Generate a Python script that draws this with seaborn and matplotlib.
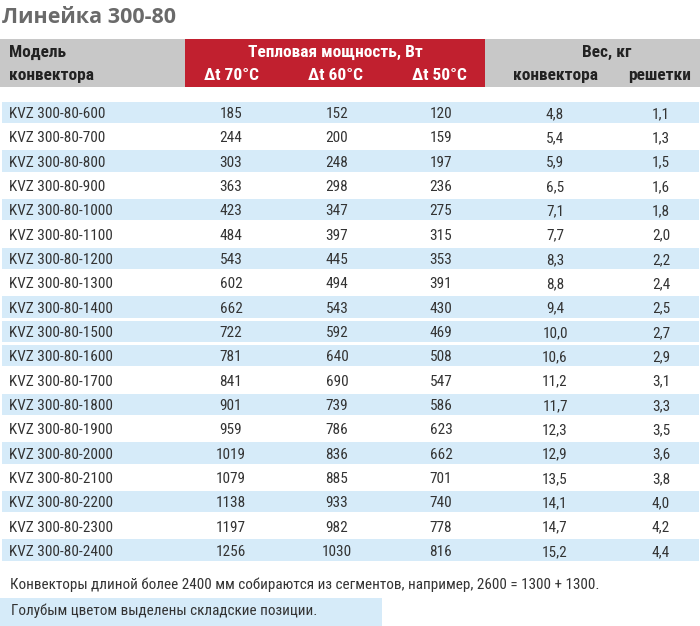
import matplotlib
matplotlib.use("Agg")
import matplotlib.pyplot as plt
from matplotlib import font_manager
from matplotlib.colors import ListedColormap
from matplotlib.patches import Rectangle
import numpy as np
import pandas as pd
import seaborn as sns

# table data
MODELS = [f"KVZ 300-80-{n}" for n in range(600, 2500, 100)]
POWER_70 = [185, 244, 303, 363, 423, 484, 543, 602, 662, 722, 781, 841, 901, 959, 1019, 1079, 1138, 1197, 1256]
POWER_60 = [152, 200, 248, 298, 347, 397, 445, 494, 543, 592, 640, 690, 739, 786, 836, 885, 933, 982, 1030]
POWER_50 = [120, 159, 197, 236, 275, 315, 353, 391, 430, 469, 508, 547, 586, 623, 662, 701, 740, 778, 816]
WEIGHT_CONV = ["4,8", "5,4", "5,9", "6,5", "7,1", "7,7", "8,3", "8,8", "9,4", "10,0",
               "10,6", "11,2", "11,7", "12,3", "12,9", "13,5", "14,1", "14,7", "15,2"]
WEIGHT_GRILLE = ["1,1", "1,3", "1,5", "1,6", "1,8", "2,0", "2,2", "2,4", "2,5", "2,7",
                 "2,9", "3,1", "3,3", "3,5", "3,6", "3,8", "4,0", "4,2", "4,4"]
# 1 = stock item (blue row)
IN_STOCK = [1, 0, 1, 0, 1, 0, 1, 0, 1, 1, 1, 0, 1, 0, 1, 0, 1, 0, 1]

TITLE = "Линейка 300-80"
HEAD_MODEL = ["Модель", "конвектора"]
HEAD_POWER = "Тепловая мощность, Вт"
HEAD_DT = ["Δt 70°C", "Δt 60°C", "Δt 50°C"]
HEAD_WEIGHT = "Вес, кг"
HEAD_WEIGHT_SUB = ["конвектора", "решетки"]
NOTE = "Конвекторы длиной более 2400 мм собираются из сегментов, например, 2600 = 1300 + 1300."
LEGEND_NOTE = "Голубым цветом выделены складские позиции."

GRAY = "#c8c8c8"
RED = "#c1202f"
BLUE = "#d6ebf9"
TEXT = "#333333"

W, H = 700, 626

sns.set_theme(style="white")
names = {f.name for f in font_manager.fontManager.ttflist}
narrow = [n for n in ["Liberation Sans Narrow", "Roboto Condensed", "Open Sans Condensed"] if n in names]
if narrow:
    BODY_FONT, BODY_SIZE, NOTE_SIZE, HEAD_SIZE = narrow[0], 11, 10.9, 12.5
else:
    BODY_FONT, BODY_SIZE, NOTE_SIZE, HEAD_SIZE = "Roboto", 10.2, 9.7, 11.5
TITLE_FONT = "Open Sans" if "Open Sans" in names else "DejaVu Sans"
plt.rcParams["font.family"] = [BODY_FONT, "DejaVu Sans"]

df = pd.DataFrame({
    "model": MODELS, "p70": POWER_70, "p60": POWER_60, "p50": POWER_50,
    "w_conv": WEIGHT_CONV, "w_grille": WEIGHT_GRILLE, "stock": IN_STOCK,
})

fig = plt.figure(figsize=(W / 100, H / 100), dpi=100)

# background axes in pixel coordinates: title, header, notes
bg = fig.add_axes([0, 0, 1, 1])
bg.set_xlim(0, W)
bg.set_ylim(H, 0)
bg.axis("off")

bg.text(2, 23, TITLE, fontsize=15.5, fontweight="bold", color="#6a6a6a",
        family=[TITLE_FONT, "DejaVu Sans"], va="baseline", ha="left")

bg.add_patch(Rectangle((0, 39), W, 48, color=GRAY, lw=0))
bg.add_patch(Rectangle((184.5, 39), 300.5, 48, color=RED, lw=0))

hkw = dict(fontsize=HEAD_SIZE, fontweight="bold", va="baseline")
bg.text(9, 57, HEAD_MODEL[0], color="#222222", ha="left", **hkw)
bg.text(9, 80, HEAD_MODEL[1], color="#222222", ha="left", **hkw)
bg.text(335, 57, HEAD_POWER, color="white", ha="center", **hkw)
for xc, lab in zip([231, 336, 439], HEAD_DT):
    bg.text(xc, 80, lab, color="white", ha="center", **hkw)
bg.text(607, 57, HEAD_WEIGHT, color="#222222", ha="center", **hkw)
for xc, lab in zip([555, 660], HEAD_WEIGHT_SUB):
    bg.text(xc, 80, lab, color="#222222", ha="center", **hkw)

bg.text(10, 589, NOTE, fontsize=NOTE_SIZE, color=TEXT, ha="left", va="baseline")
bg.add_patch(Rectangle((0, 597.5), 382, 28, color=BLUE, lw=0))
bg.text(11, 615, LEGEND_NOTE, fontsize=NOTE_SIZE, color=TEXT, ha="left", va="baseline")

# body: stock highlighting as a one-column heatmap
top, bottom = 99.8, 561.8
body = fig.add_axes([0, 1 - bottom / H, 1, (bottom - top) / H])
sns.heatmap(df[["stock"]].to_numpy(), ax=body, cmap=ListedColormap(["white", BLUE]),
            vmin=0, vmax=1, cbar=False, linewidths=0.8, linecolor="white",
            xticklabels=False, yticklabels=False)
body.patch.set_alpha(0)
body.axis("off")

bkw = dict(fontsize=BODY_SIZE, color=TEXT, va="baseline")
cols = [("p70", 231), ("p60", 337), ("p50", 441), ("w_conv", 555), ("w_grille", 661)]
for i, row in df.iterrows():
    yb = i + 0.755
    body.text(9 / W, yb, row["model"], ha="left", **bkw)
    for key, xc in cols:
        body.text(xc / W, yb, str(row[key]), ha="center", **bkw)

fig.savefig("out.png", dpi=100)
